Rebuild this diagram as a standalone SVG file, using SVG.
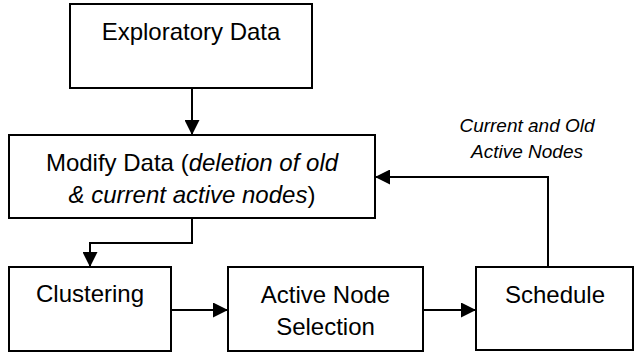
<svg xmlns="http://www.w3.org/2000/svg" width="634" height="356" viewBox="0 0 634 356">
<style>
.box{fill:#fff;stroke:#000;stroke-width:2}
.t{font-family:"Liberation Sans",Arial,sans-serif;font-size:24px;fill:#000;text-anchor:middle}
.i{font-style:italic}
.lbl{font-family:"Liberation Sans",Arial,sans-serif;font-size:19px;font-style:italic;fill:#000;text-anchor:middle}
.c{fill:none;stroke:#000;stroke-width:2}
</style>
<defs>
<marker id="ah" markerUnits="userSpaceOnUse" markerWidth="15" markerHeight="15" refX="15" refY="7.5" orient="auto">
<path d="M0,0 L15,7.5 L0,15 Z" fill="#000"/>
</marker>
</defs>
<rect width="634" height="356" fill="#fff"/>
<g id="connectors">
<path class="c" d="M192,88 V135" marker-end="url(#ah)"/>
<path class="c" d="M192,218 V243 H90 V267" marker-end="url(#ah)"/>
<path class="c" d="M171,310 H228" marker-end="url(#ah)"/>
<path class="c" d="M423,310 H476" marker-end="url(#ah)"/>
<path class="c" d="M548,267 V177 H375" marker-end="url(#ah)"/>
<text class="lbl" x="527" y="132">Current and Old</text>
<text class="lbl" x="527" y="158">Active Nodes</text>
</g>
<g id="exploratory">
<rect class="box" x="70" y="4" width="242" height="84"/>
<text class="t" x="191" y="40">Exploratory Data</text>
</g>
<g id="modify">
<rect class="box" x="9" y="135" width="366" height="83"/>
<text class="t" x="192" y="171">Modify Data (<tspan class="i">deletion of old</tspan></text>
<text class="t" x="192" y="203"><tspan class="i">&amp; current active nodes</tspan>)</text>
</g>
<g id="clustering">
<rect class="box" x="9" y="267" width="162" height="84"/>
<text class="t" x="90" y="302">Clustering</text>
</g>
<g id="active">
<rect class="box" x="228" y="267" width="195" height="84"/>
<text class="t" x="325.5" y="303">Active Node</text>
<text class="t" x="325.5" y="335">Selection</text>
</g>
<g id="schedule">
<rect class="box" x="476" y="267" width="157" height="83"/>
<text class="t" x="555" y="303">Schedule</text>
</g>
</svg>
